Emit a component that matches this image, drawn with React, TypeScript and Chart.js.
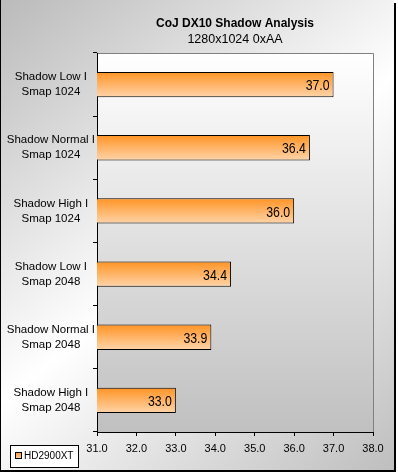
import { useEffect, useRef } from 'react';
import { Chart, registerables } from 'chart.js';

Chart.register(...registerables);

const categories: string[][] = [
  ['Shadow Low I', 'Smap 1024'],
  ['Shadow Normal I', 'Smap 1024'],
  ['Shadow High I', 'Smap 1024'],
  ['Shadow Low I', 'Smap 2048'],
  ['Shadow Normal I', 'Smap 2048'],
  ['Shadow High I', 'Smap 2048'],
];
const values: number[] = [37.0, 36.4, 36.0, 34.4, 33.9, 33.0];
const seriesName = 'HD2900XT';
const titleText = 'CoJ DX10 Shadow Analysis';
const subtitleText = '1280x1024 0xAA';
const xMin = 31;
const xMax = 38;
const xStep = 1;

const FONT = '"Liberation Sans", Arial, sans-serif';

function barGradient(ctx: CanvasRenderingContext2D, y0: number, y1: number) {
  const g = ctx.createLinearGradient(0, y0, 0, y1);
  g.addColorStop(0, '#ff9424');
  g.addColorStop(1, '#ffd4aa');
  return g;
}

const decorPlugin = {
  id: 'decor',
  beforeDraw(chart: any) {
    const c: CanvasRenderingContext2D = chart.ctx;
    const W = chart.width;
    const H = chart.height;
    c.save();
    const bg = c.createLinearGradient(0, 0, W, H);
    bg.addColorStop(0, '#bababa');
    bg.addColorStop(0.5, '#ffffff');
    bg.addColorStop(1, '#bdbdbd');
    c.fillStyle = bg;
    c.fillRect(0, 0, W, H);
    // frame with shadow
    c.fillStyle = '#000';
    c.fillRect(0, 0, 1, 472);
    c.fillRect(394, 3, 2, 469);
    c.fillRect(0, 470, 396, 2);
    c.fillStyle = '#ffffff';
    c.fillRect(396, 0, 2, H);
    c.fillRect(0, 472, W, 3);
    c.fillRect(394, 0, 4, 3);
    // plot area
    const a = chart.chartArea;
    const pg = c.createLinearGradient(0, a.top, 0, a.bottom);
    pg.addColorStop(0, '#ffffff');
    pg.addColorStop(1, '#c0c0c0');
    c.fillStyle = pg;
    c.fillRect(a.left, a.top, a.right - a.left, a.bottom - a.top);
    c.strokeStyle = '#808080';
    c.lineWidth = 1;
    c.beginPath();
    c.moveTo(a.left, a.top + 0.5);
    c.lineTo(a.right + 0.5, a.top + 0.5);
    c.lineTo(a.right + 0.5, a.bottom);
    c.stroke();
    c.restore();
  },
  afterDatasetsDraw(chart: any) {
    const c: CanvasRenderingContext2D = chart.ctx;
    const meta = chart.getDatasetMeta(0);
    const data = chart.data.datasets[0].data as number[];
    meta.data.forEach((bar: any, i: number) => {
      const { x, y } = bar.getProps(['x', 'y'], true);
      c.save();
      c.font = `15px ${FONT}`;
      c.textAlign = 'right';
      c.textBaseline = 'middle';
      c.fillStyle = '#000';
      c.translate(x - 4, y + 1.5);
      c.scale(0.82, 1);
      c.fillText(data[i].toFixed(1), 0, 0);
      c.restore();
    });
  },
  afterDraw(chart: any) {
    const c: CanvasRenderingContext2D = chart.ctx;
    const label = chart.data.datasets[0].label;
    c.save();
    c.fillStyle = '#ffffff';
    c.fillRect(10, 445, 69, 22);
    c.strokeStyle = '#000';
    c.lineWidth = 1;
    c.strokeRect(10.5, 445.5, 68, 22);
    c.fillStyle = barGradient(c, 452, 459);
    c.fillRect(15.5, 452.5, 6, 6);
    c.strokeRect(15.5, 452.5, 6, 6);
    c.fillStyle = '#000';
    c.font = `10px ${FONT}`;
    c.textAlign = 'left';
    c.textBaseline = 'middle';
    c.fillText(label, 24, 456.5);
    c.restore();
  },
};

export default function App() {
  const ref = useRef<HTMLCanvasElement | null>(null);

  useEffect(() => {
    if (!ref.current) return;
    Chart.defaults.font.family = FONT;
    const chart = new Chart(ref.current, {
      type: 'bar',
      data: {
        labels: categories,
        datasets: [
          {
            label: seriesName,
            data: values,
            backgroundColor: (ctx: any) => {
              const chart = ctx.chart;
              const ys = chart.scales?.y;
              if (!chart.chartArea || !ys) return '#ffb060';
              const yc = ys.getPixelForValue(ctx.dataIndex);
              const band = (ys.bottom - ys.top) / categories.length;
              const h = band * 0.4;
              return barGradient(chart.ctx, yc - h / 2, yc + h / 2);
            },
            borderColor: '#000',
            borderWidth: 1,
            borderSkipped: false,
            barPercentage: 0.4,
            categoryPercentage: 1,
          },
        ],
      },
      options: {
        indexAxis: 'y',
        responsive: false,
        animation: false,
        layout: { padding: { top: 0, right: 25, bottom: 0, left: 0 } },
        plugins: {
          legend: { display: false },
          tooltip: { enabled: false },
          title: {
            display: true,
            text: titleText,
            color: '#000',
            font: { size: 12, weight: 'bold', family: FONT },
            padding: { top: 16, bottom: 0 },
            fullSize: false,
          },
          subtitle: {
            display: true,
            text: subtitleText,
            color: '#000',
            font: { size: 12.5, family: FONT },
            padding: { top: 1.5, bottom: 6.1 },
            fullSize: false,
          },
        },
        scales: {
          x: {
            type: 'linear',
            min: xMin,
            max: xMax,
            ticks: {
              stepSize: xStep,
              color: '#000',
              font: { size: 11, family: FONT },
              padding: 6,
              callback: (v: any) => Number(v).toFixed(1),
            },
            grid: {
              display: true,
              drawOnChartArea: false,
              drawTicks: true,
              tickLength: 4,
              color: '#000',
            },
            border: { display: true, color: '#000', width: 1 },
            afterFit: (s: any) => {
              s.height = 43;
            },
          },
          y: {
            type: 'category',
            ticks: {
              color: '#000',
              font: { size: 11.5, family: FONT, lineHeight: 1.3 },
              padding: -2,
              crossAlign: 'center',
            },
            grid: {
              display: true,
              offset: true,
              drawOnChartArea: false,
              drawTicks: true,
              tickLength: 4,
              color: '#000',
            },
            border: { display: true, color: '#000', width: 1 },
            afterFit: (s: any) => {
              s.width = 97;
            },
          },
        },
      } as any,
      plugins: [decorPlugin],
    });
    return () => chart.destroy();
  }, []);

  return (
    <div style={{ position: 'absolute', left: 0, top: 0, width: 398, height: 475 }}>
      <canvas ref={ref} width={398} height={475} style={{ display: 'block' }} />
    </div>
  );
}
